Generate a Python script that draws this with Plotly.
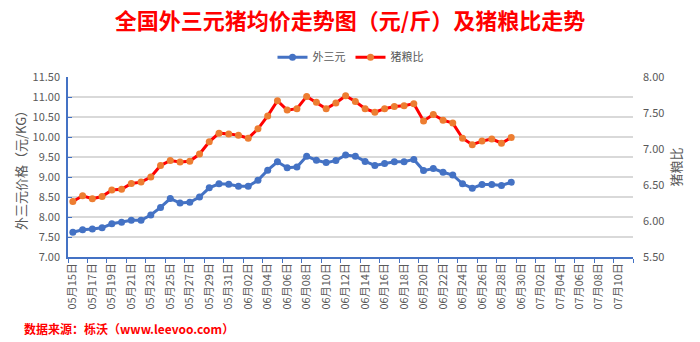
import datetime as dt
import plotly.graph_objects as go

# Daily category axis: 05/15 – 07/11
start = dt.date(2023, 5, 15)
dates = [(start + dt.timedelta(days=i)) for i in range(58)]
categories = [f"{d.month:02d}月{d.day:02d}日" for d in dates]

# 外三元 average price (元/KG)
price = [7.62, 7.68, 7.70, 7.73, 7.83, 7.87, 7.92, 7.92, 8.05, 8.24,
         8.46, 8.35, 8.37, 8.50, 8.73, 8.83, 8.82, 8.77, 8.77, 8.92,
         9.17, 9.38, 9.23, 9.25, 9.52, 9.42, 9.36, 9.41, 9.55, 9.52,
         9.39, 9.29, 9.34, 9.38, 9.38, 9.44, 9.16, 9.21, 9.12, 9.05,
         8.83, 8.72, 8.81, 8.81, 8.79, 8.87]

# 猪粮比 (hog-to-grain ratio)
ratio = [6.27, 6.35, 6.31, 6.34, 6.43, 6.44, 6.52, 6.54, 6.61, 6.77,
         6.84, 6.82, 6.83, 6.93, 7.10, 7.22, 7.21, 7.19, 7.15, 7.28,
         7.46, 7.67, 7.54, 7.56, 7.73, 7.65, 7.56, 7.64, 7.74, 7.66,
         7.56, 7.51, 7.56, 7.59, 7.60, 7.63, 7.39, 7.48, 7.40, 7.36,
         7.15, 7.06, 7.11, 7.14, 7.08, 7.16]

BLUE = "#4472C4"
ORANGE = "#ED7D31"
RED = "#FF0000"
GRAY = "#595959"
GRID = "#D9D9D9"
FONT = "Noto Sans CJK SC, Noto Sans, sans-serif"

fig = go.Figure()
fig.add_trace(go.Scatter(
    x=categories[:len(price)], y=price, name="外三元",
    mode="lines+markers",
    line=dict(color=BLUE, width=3),
    marker=dict(color=BLUE, size=7),
))
fig.add_trace(go.Scatter(
    x=categories[:len(ratio)], y=ratio, name="猪粮比",
    mode="lines+markers", yaxis="y2",
    line=dict(color=RED, width=3),
    marker=dict(color=ORANGE, size=7),
))

fig.update_layout(
    width=700, height=342,
    margin=dict(l=68, r=67, t=77, b=85),
    paper_bgcolor="white", plot_bgcolor="white",
    font=dict(family=FONT, color=GRAY, size=11),
    showlegend=True,
    legend=dict(orientation="h", x=0.5, xanchor="center", y=1.11, yanchor="middle",
                font=dict(size=11, color=GRAY), itemwidth=30, tracegroupgap=0),
    xaxis=dict(
        type="category", categoryorder="array", categoryarray=categories,
        range=[-0.5, len(categories) - 0.5],
        dtick=2, tick0=0, tickson="boundaries",
        ticks="outside", ticklen=4, tickcolor=BLUE,
        tickangle=-90, tickfont=dict(size=11, color=GRAY),
        showline=True, linecolor=BLUE, linewidth=1.5,
        showgrid=False, zeroline=False,
    ),
    yaxis=dict(
        range=[7, 11.5], dtick=0.5, tickformat=".2f",
        showline=True, linecolor=BLUE, linewidth=1.5,
        ticks="inside", ticklen=4, tickcolor=BLUE,
        gridcolor=GRID, gridwidth=1.5, zeroline=False,
        tickfont=dict(size=11, color=GRAY), ticklabelstandoff=4,
        title=dict(text="外三元价格（元/KG）", font=dict(size=13, color=GRAY), standoff=3),
    ),
    yaxis2=dict(
        range=[5.5, 8], dtick=0.5, tickformat=".2f",
        overlaying="y", side="right",
        showline=False, showgrid=False, zeroline=False,
        tickfont=dict(size=11, color=GRAY), ticklabelstandoff=9,
        title=dict(text="猪粮比", font=dict(size=13, color=GRAY), standoff=8),
    ),
    title=dict(
        text="<b>全国外三元猪均价走势图（元/斤）及猪粮比走势</b>",
        x=0.5, xanchor="center", y=1 - 21 / 342, yanchor="middle",
        font=dict(size=22, color=RED, family=FONT),
    ),
    annotations=[dict(
        text="<b>数据来源：栎沃（www.leevoo.com）</b>",
        xref="paper", yref="paper", x=-68 / 565 + 22 / 565, y=-(328 - 257) / 180,
        xanchor="left", yanchor="middle", showarrow=False,
        font=dict(size=12, color=RED, family=FONT),
    )],
)

fig.write_html("out.html")
